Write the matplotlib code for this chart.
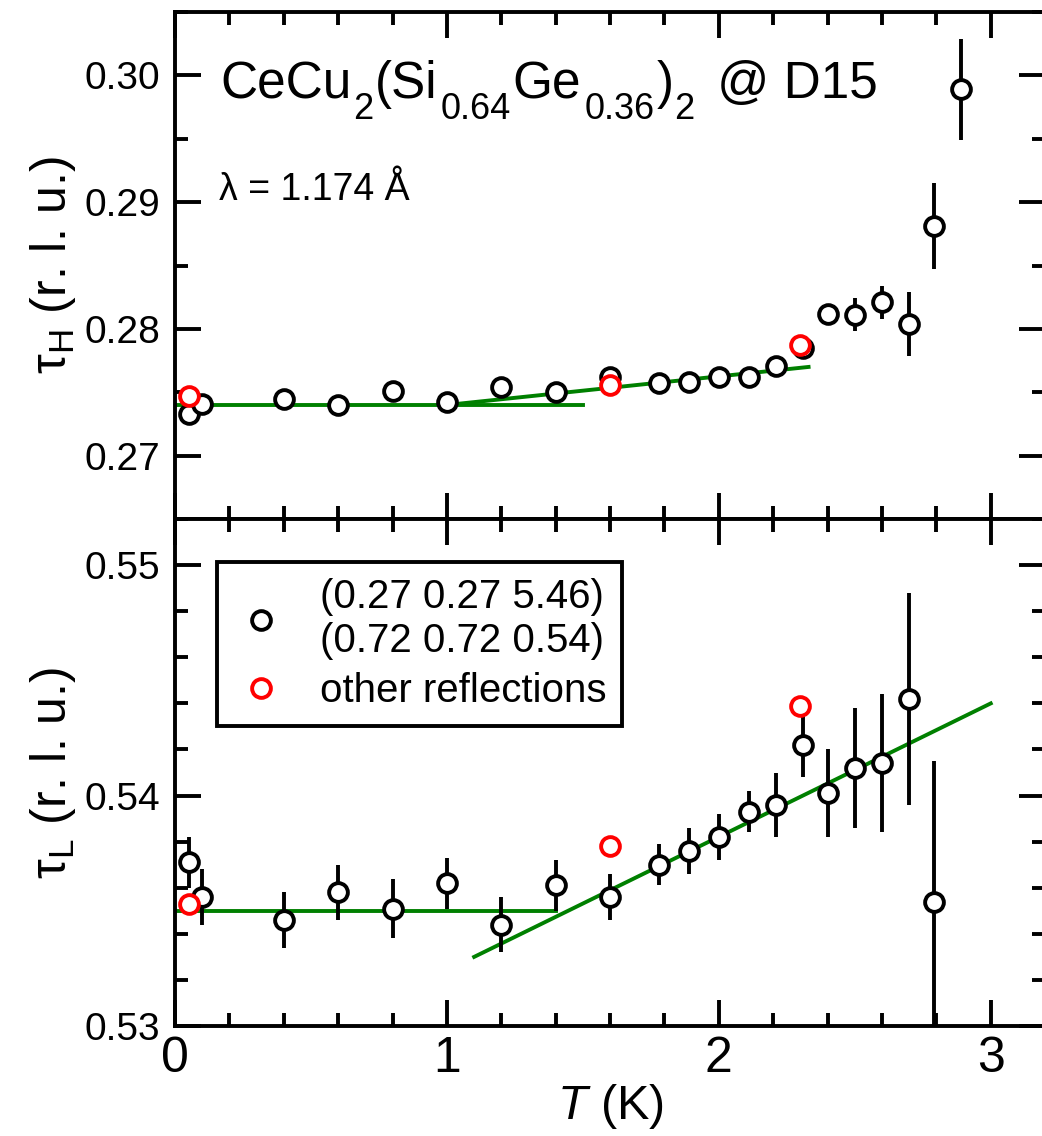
import matplotlib
matplotlib.use('Agg')
import matplotlib.pyplot as plt
from matplotlib.lines import Line2D
from matplotlib.ticker import MultipleLocator, FormatStrFormatter
from matplotlib.transforms import IdentityTransform

plt.rcParams['font.family'] = ['Liberation Sans', 'DejaVu Sans']
plt.rcParams['mathtext.fontset'] = 'custom'
plt.rcParams['mathtext.rm'] = 'Liberation Sans'
plt.rcParams['mathtext.it'] = 'Liberation Sans:italic'
plt.rcParams['mathtext.bf'] = 'Liberation Sans:bold'

# temperatures (K)
T_H = [0.05, 0.10, 0.40, 0.60, 0.80, 1.00, 1.20, 1.40, 1.60, 1.78, 1.89,
       2.00, 2.11, 2.21, 2.31, 2.40, 2.50, 2.60, 2.70, 2.79, 2.89]
T_L = [0.05, 0.10, 0.40, 0.60, 0.80, 1.00, 1.20, 1.40, 1.60, 1.78, 1.89,
       2.00, 2.11, 2.21, 2.31, 2.40, 2.50, 2.60, 2.70, 2.79]

# (0.27 0.27 5.46) / (0.72 0.72 0.54) reflections
tau_H = [0.2733, 0.2741, 0.2745, 0.2740, 0.2751, 0.2742, 0.2754, 0.2750,
         0.2762, 0.2757, 0.2758, 0.2762, 0.2762, 0.2771, 0.2785, 0.2812,
         0.2811, 0.2821, 0.2804, 0.2881, 0.2989]
err_H = [0.0004, 0.0004, 0.0004, 0.0004, 0.0004, 0.0004, 0.0004, 0.0004,
         0.0004, 0.0004, 0.0004, 0.0004, 0.0004, 0.0004, 0.0004, 0.0006,
         0.0013, 0.0013, 0.0025, 0.0034, 0.0040]
tau_L = [0.5371, 0.5356, 0.5346, 0.5358, 0.5351, 0.5362, 0.5344, 0.5361,
         0.5356, 0.5370, 0.5376, 0.5382, 0.5393, 0.5396, 0.5422, 0.5401,
         0.5412, 0.5414, 0.5442, 0.5354]
err_L = [0.0011, 0.0012, 0.0012, 0.0012, 0.0013, 0.0011, 0.0012, 0.0011,
         0.0010, 0.0009, 0.0010, 0.0010, 0.0009, 0.0014, 0.0014, 0.0019,
         0.0026, 0.0030, 0.0046, 0.0061]

# other reflections
T_other = [0.05, 1.60, 2.30]
tau_H_other = [0.2747, 0.2756, 0.2787]
tau_L_other = [0.5353, 0.5378, 0.5439]

# linear fits (end points)
fitH_flat_T, fitH_flat = [0.0, 1.5], [0.2740, 0.2740]
fitH_slope_T, fitH_slope = [1.0, 2.33], [0.2740, 0.2770]
fitL_flat_T, fitL_flat = [0.0, 1.4], [0.5350, 0.5350]
fitL_slope_T, fitL_slope = [1.1, 3.0], [0.5330, 0.5440]

LW = 2.8
MS = 13.5
GREEN = '#008000'

fig = plt.figure(figsize=(10.42, 11.36), dpi=100)
left, width = 0.168, 0.835
ax_h = fig.add_axes([left, 0.5431, width, 0.4463])
ax_l = fig.add_axes([left, 0.0968, width, 0.4463])


def style_axis(ax, ymin, ymax, ymajor, yminor):
    ax.set_xlim(0, 3.2)
    ax.set_ylim(ymin, ymax)
    ax.xaxis.set_major_locator(MultipleLocator(1))
    ax.xaxis.set_minor_locator(MultipleLocator(0.2))
    ax.yaxis.set_major_locator(MultipleLocator(ymajor))
    ax.yaxis.set_minor_locator(MultipleLocator(yminor))
    ax.yaxis.set_major_formatter(FormatStrFormatter('%.2f'))
    ax.tick_params(which='both', direction='in', top=True, right=True,
                   width=LW, color='black')
    ax.tick_params(which='major', length=19)
    ax.tick_params(which='minor', length=9.3)
    ax.tick_params(axis='y', labelsize=28, pad=10.5)
    ax.tick_params(axis='x', labelsize=36, pad=7)
    for sp in ax.spines.values():
        sp.set_linewidth(LW)


def draw_panel(ax, T, tau, err, tau_other, flat_T, flat, slope_T, slope):
    ax.plot(flat_T, flat, color=GREEN, lw=LW, zorder=1.5)
    ax.plot(slope_T, slope, color=GREEN, lw=LW, zorder=1.5)
    ax.errorbar(T, tau, yerr=err, fmt='o', ms=MS, mew=LW, mfc='white',
                mec='black', ecolor='black', elinewidth=LW, capsize=0,
                zorder=3)
    ax.plot(T_other, tau_other, 'o', ms=MS, mew=LW, mfc='white',
            mec='red', ls='none', zorder=4)


def formula(ax, x, y, runs):
    """Write text runs one after another: (text, size, drop px, gap px)."""
    renderer = fig.canvas.get_renderer()
    px, py = ax.transAxes.transform((x, y))
    for text, size, drop, gap in runs:
        t = ax.text(px, py - drop, text, fontsize=size, va='baseline',
                    transform=IdentityTransform())
        px = t.get_window_extent(renderer).x1 + gap


style_axis(ax_h, 0.265, 0.305, 0.01, 0.005)
style_axis(ax_l, 0.530, 0.552, 0.01, 0.002)
ax_h.tick_params(axis='x', labelbottom=False)

draw_panel(ax_h, T_H, tau_H, err_H, tau_H_other,
           fitH_flat_T, fitH_flat, fitH_slope_T, fitH_slope)
draw_panel(ax_l, T_L, tau_L, err_L, tau_L_other,
           fitL_flat_T, fitL_flat, fitL_slope_T, fitL_slope)

ax_h.set_ylabel(r'$\mathregular{\tau_H}$ (r. l. u.)', fontsize=36)
ax_l.set_ylabel(r'$\mathregular{\tau_L}$ (r. l. u.)', fontsize=36)
ax_h.yaxis.set_label_coords(-0.112, 0.5)
ax_l.yaxis.set_label_coords(-0.112, 0.5)
ax_l.set_xlabel(r'$T$ (K)', fontsize=35, labelpad=0)

big, sub, drop = 37, 26, 21
formula(ax_h, 0.052, 0.83, [
    ('CeCu', big, 0, 1), ('2', sub, drop, 2), ('(Si', big, 0, 3),
    ('0.64', sub, drop, 2), ('Ge', big, 0, 3), ('0.36', sub, drop, 2),
    (')', big, 0, 1), ('2', sub, drop, 8), (' @ D15', big, 0, 0)])
ax_h.text(0.051, 0.629, 'λ = 1.174 Å', transform=ax_h.transAxes,
          fontsize=27, va='baseline')

handles = [
    Line2D([], [], ls='none', marker='o', ms=MS, mew=LW, mfc='white', mec='black'),
    Line2D([], [], ls='none', marker='o', ms=MS, mew=LW, mfc='white', mec='red'),
]
labels = ['(0.27 0.27 5.46)\n(0.72 0.72 0.54)', 'other reflections']
leg = ax_l.legend(handles, labels, loc='upper left',
                  bbox_to_anchor=(0.048, 0.915), borderaxespad=0,
                  fontsize=29, handlelength=1.4, handletextpad=0.75,
                  borderpad=0.4, labelspacing=0.3, fancybox=False,
                  framealpha=1, edgecolor='black')
leg.get_frame().set_linewidth(LW)
for t in leg.get_texts():
    t.set_linespacing(1.2)

fig.savefig('out.png', dpi=100)
